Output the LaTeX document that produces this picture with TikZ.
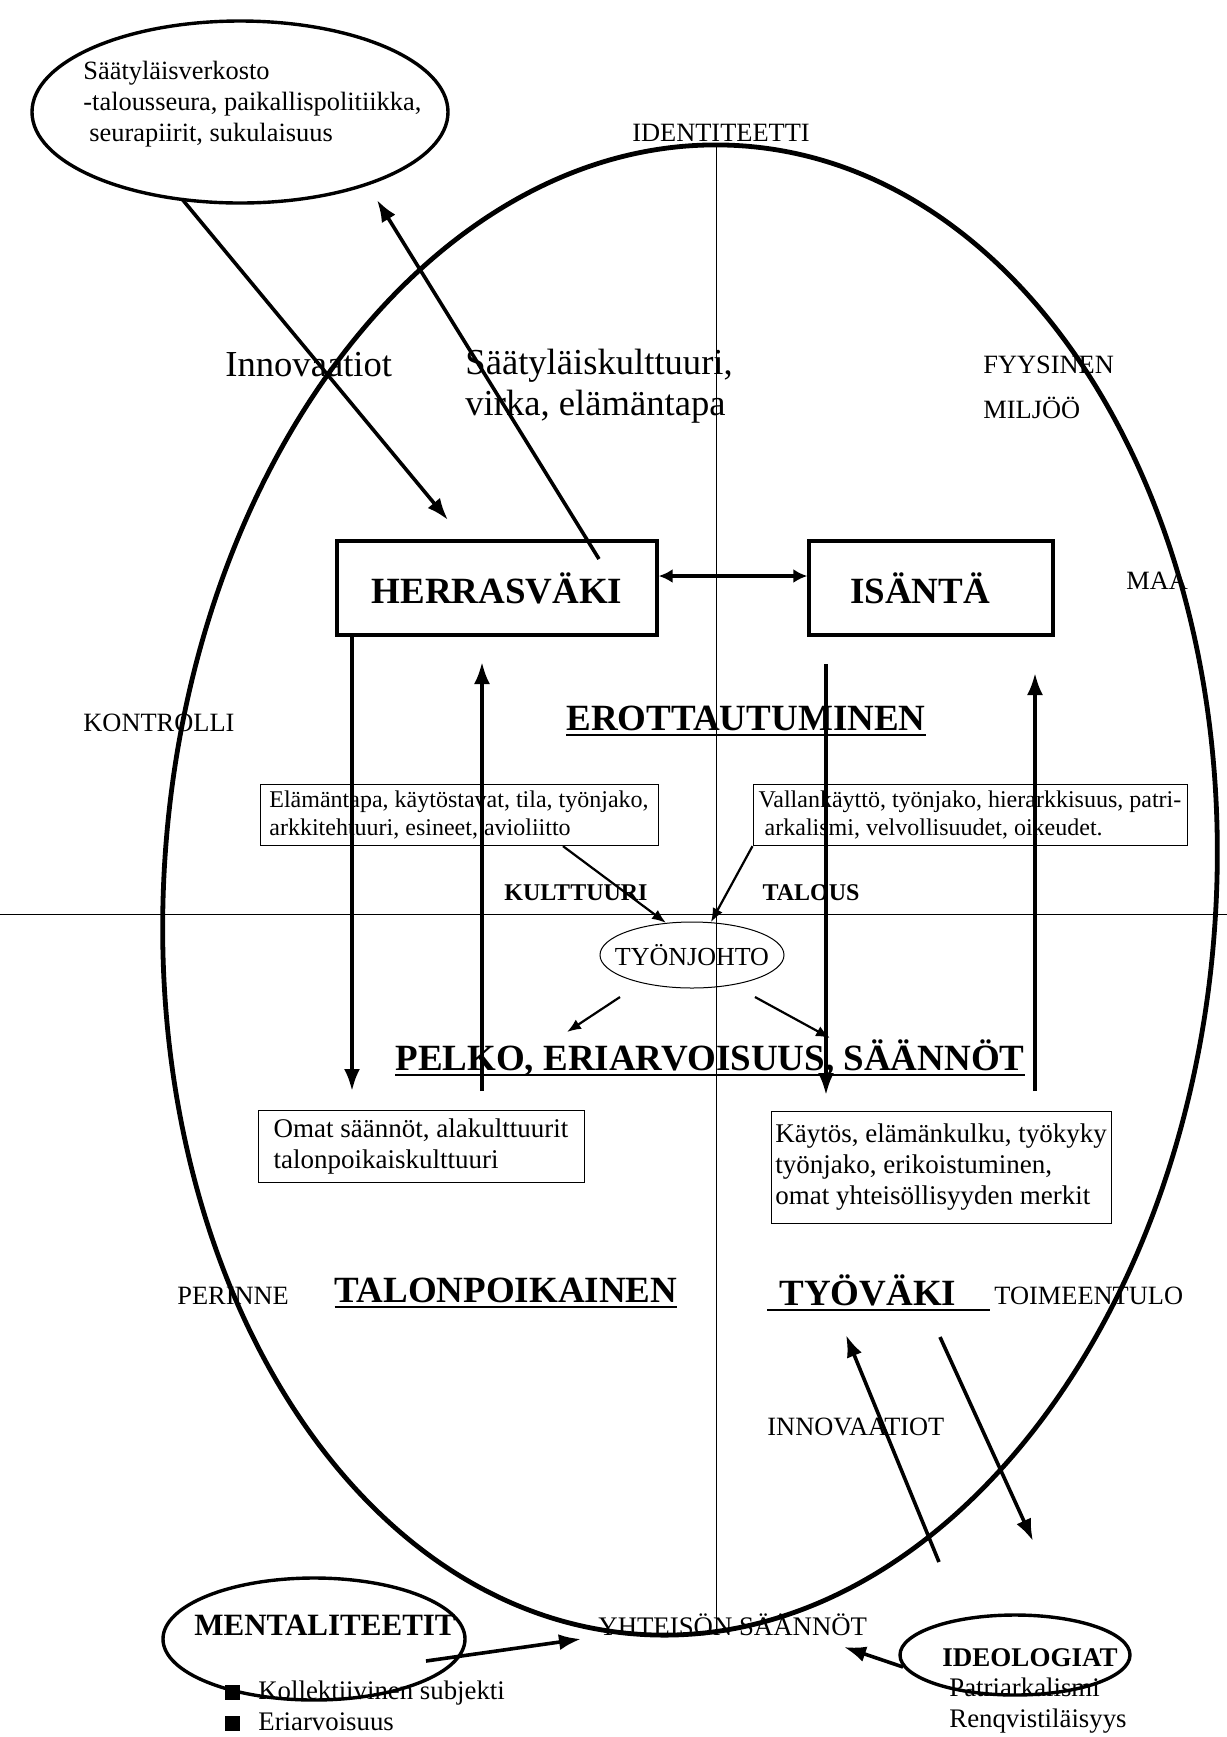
\documentclass[tikz,border=0pt]{standalone}
\usepackage{fontspec}
\setmainfont{Liberation Serif}
\usetikzlibrary{arrows.meta,shapes.geometric}

\def\hugetxt{\fontsize{18.5}{21}\selectfont}
\def\bigtxt{\fontsize{18.3}{20.5}\selectfont}
\def\midtxt{\fontsize{13.2}{15.5}\selectfont}
\def\boxtxt{\fontsize{12}{13.8}\selectfont}
\def\lowtxt{\fontsize{13.4}{15.5}\selectfont}
\newsavebox\ulbox
\newcommand{\heavyul}[1]{\sbox\ulbox{#1}\rlap{\rule[-3pt]{\wd\ulbox}{1.3pt}}\usebox\ulbox}

\tikzset{
  bigarrow/.style={line width=1.8pt,-{Latex[length=11pt,width=8pt]}},
  bothways/.style={line width=1.8pt,{Latex[length=7pt,width=7pt]}-{Latex[length=7pt,width=7pt]}},
  smallarrow/.style={line width=1.1pt,-{Latex[length=7pt,width=5.5pt]}},
  heavybox/.style={draw,line width=1.7pt,font=\hugetxt\bfseries,minimum height=47pt},
  thinbox/.style={draw,line width=0.5pt,align=left,inner xsep=2pt},
  capsword/.style={font=\midtxt,inner sep=0pt},
  headline/.style={font=\hugetxt\bfseries,inner sep=0pt},
  ring/.style={draw,ellipse,line width=1.7pt,inner sep=0pt}
}

\begin{document}
\begin{tikzpicture}[x=0.5pt,y=-0.5pt]
  \useasboundingbox (0,0) rectangle (1227,1737);
  % cross and the big oval
  \draw[line width=0.5pt] (0,914) -- (1227,914);
  \draw[line width=0.5pt] (716,146) -- (716,1632);
  \draw[line width=2.4pt,rotate around={-4:(690,890)}] (690,890) ellipse [x radius=526,y radius=746];

  % network oval
  \node[ring,minimum width=208pt,minimum height=91pt] (netwring) at (240,112) {};
  \node[font=\midtxt,align=left,anchor=west,inner sep=0pt] (netw) at (83,104)
    {Säätyläisverkosto\\-talousseura, paikallispolitiikka,\\\hspace*{3pt}seurapiirit, sukulaisuus};

  \node[capsword] (ident) at (721,133) {IDENTITEETTI};
  \node[font=\bigtxt,anchor=west,inner sep=0pt] (innov) at (225,365) {Innovaatiot};
  \node[font=\bigtxt,align=left,anchor=west,inner sep=0pt] (kulttuuri) at (465,386) {Säätyläiskulttuuri,\\virka, elämäntapa};
  \node[font=\fontsize{13.2}{22.5}\selectfont,align=left,anchor=west,inner sep=0pt] (miljoo) at (983,387) {FYYSINEN\\MILJÖÖ};
  \node[capsword,anchor=west] (maa) at (1126,581) {MAA};
  \node[capsword,anchor=west] (kontr) at (83,723) {KONTROLLI};

  % upper boxes
  \node[heavybox,minimum width=160pt] (herr) at (497,588) {HERRASVÄKI};
  \node[heavybox,minimum width=122pt] (isanta) at (931,588) {ISÄNTÄ\hspace*{11pt}};
  \node[headline] (erott) at (746,721) {\heavyul{EROTTAUTUMINEN}};
  \node[thinbox,font=\boxtxt,minimum width=199pt,minimum height=29pt] (elama) at (459,815)
    {Elämäntapa, käytöstavat, tila, työnjako,\\arkkitehtuuri, esineet, avioliitto};
  \node[thinbox,font=\boxtxt,minimum width=217pt,minimum height=29pt] (valta) at (970,815)
    {Vallankäyttö, työnjako, hierarkkisuus, patri-\\\hspace*{3pt}arkalismi, velvollisuudet, oikeudet.};
  \node[font=\fontsize{12}{14}\selectfont\bfseries] (kultt) at (576,893) {KULTTUURI};
  \node[font=\fontsize{12}{14}\selectfont\bfseries] (talous) at (811,893) {TALOUS};
  \node[draw,ellipse,line width=0.5pt,minimum width=92pt,minimum height=33pt,inner xsep=-6pt,inner ysep=0pt,
    font=\fontsize{13}{15}\selectfont] (tjohto) at (692,955) {TYÖNJOHTO};
  \node[headline] (pelko) at (710,1058) {\heavyul{PELKO, ERIARVOISUUS, SÄÄNNÖT}};

  % lower boxes
  \node[thinbox,font=\fontsize{13.5}{15.5}\selectfont,minimum width=163pt,minimum height=36pt] (omat) at (421,1146)
    {Omat säännöt, alakulttuurit\\talonpoikaiskulttuuri};
  \node[thinbox,font=\fontsize{13.5}{15.5}\selectfont,minimum width=170pt,minimum height=56pt] (kaytos) at (941,1167)
    {Käytös, elämänkulku, työkyky\\työnjako, erikoistuminen,\\omat yhteisöllisyyden merkit};
  \node[capsword,anchor=west] (perinne) at (177,1296) {PERINNE};
  \node[headline] (talonp) at (506,1293) {\heavyul{TALONPOIKAINEN}};
  \node[headline,anchor=west] (tyovaki) at (767,1293) {\heavyul{\hspace*{6pt}TYÖVÄKI\hspace*{17pt}}};
  \node[capsword,anchor=west] (toim) at (994,1296) {TOIMEENTULO};
  \node[capsword,anchor=west] (innov2) at (767,1427) {INNOVAATIOT};

  % bottom
  \node[ring,minimum width=151pt,minimum height=61pt] (mentring) at (314,1639) {};
  \node[font=\fontsize{15.5}{18}\selectfont\bfseries,anchor=west,inner sep=0pt] (ment) at (194,1625) {MENTALITEETIT};
  \node[font=\lowtxt,align=left,anchor=west,inner sep=0pt] (mentlist) at (225,1706)
    {\rule{7.5pt}{7.5pt}\hspace{9pt}Kollektiivinen subjekti\\\rule{7.5pt}{7.5pt}\hspace{9pt}Eriarvoisuus};
  \node[font=\lowtxt,anchor=west,inner sep=0pt] (saannot) at (598,1625) {YHTEISÖN SÄÄNNÖT};
  \node[ring,minimum width=115pt,minimum height=40pt] (ideoring) at (1015,1655) {};
  \node[font=\fontsize{13.5}{16}\selectfont\bfseries] (ideo) at (1030,1658) {IDEOLOGIAT};
  \node[font=\lowtxt,align=left,anchor=west,inner sep=0pt] (ideolist) at (949,1706)
    {Patriarkalismi\\Renqvistiläisyys};

  % arrow ends
  \coordinate (netwfoot) at (182,199);
  \coordinate (herrtop) at (448,520);
  \coordinate (herrleave) at (599,559);
  \coordinate (kulttip) at (377,200);
  \coordinate (dn1) at (352,1091);
  \coordinate (up1a) at (482,1091);
  \coordinate (up1b) at (482,662);
  \coordinate (dn2a) at (826,664);
  \coordinate (dn2b) at (826,1095);
  \coordinate (up2a) at (1035,1091);
  \coordinate (up2b) at (1035,673);
  \coordinate (tleft) at (620,997);
  \coordinate (tlefttip) at (567,1032);
  \coordinate (tright) at (755,997);
  \coordinate (trighttip) at (830,1038);
  \coordinate (tyoup) at (939,1562);
  \coordinate (tyouptip) at (846,1335);
  \coordinate (tyodn) at (940,1337);
  \coordinate (tyodntip) at (1033,1541);
  \coordinate (mentfoot) at (426,1661);
  \coordinate (menttip) at (581,1639);
  \coordinate (ideofoot) at (903,1667);
  \coordinate (ideotip) at (844,1647);

  \draw[bigarrow] (netwfoot) -- (herrtop);
  \draw[bigarrow] (herrleave) -- (kulttip);
  \draw[bothways] ([yshift=6pt]herr.east) -- ([yshift=6pt]isanta.west);
  \draw[bigarrow] (herr.south -| dn1) -- (dn1);
  \draw[bigarrow] (up1a) -- (up1b);
  \draw[bigarrow] (dn2a) -- (dn2b);
  \draw[bigarrow] (up2a) -- (up2b);
  \draw[smallarrow] ([xshift=52pt]elama.south) -- (tjohto.129);
  \draw[smallarrow] (valta.south west) -- (tjohto.60);
  \draw[smallarrow] (tleft) -- (tlefttip);
  \draw[smallarrow] (tright) -- (trighttip);
  \draw[bigarrow] (tyoup) -- (tyouptip);
  \draw[bigarrow] (tyodn) -- (tyodntip);
  \draw[bigarrow] (mentfoot) -- (menttip);
  \draw[bigarrow] (ideofoot) -- (ideotip);
\end{tikzpicture}
\end{document}
